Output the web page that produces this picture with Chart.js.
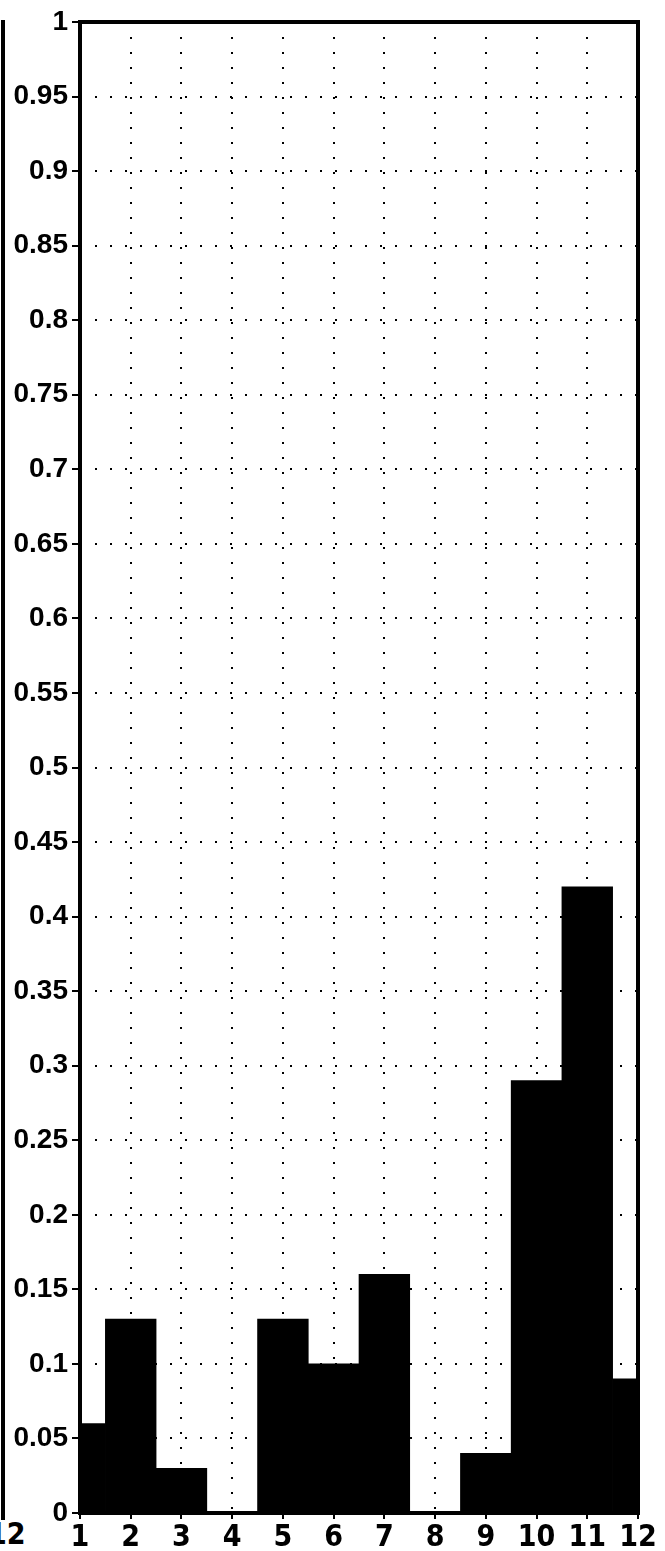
<!DOCTYPE html>
<html>
<head>
<meta charset="utf-8">
<script src="https://cdn.jsdelivr.net/npm/chart.js@4"></script>
<style>
  html, body { margin: 0; padding: 0; background: #fff; }
  #wrap { position: relative; width: 665px; height: 1551px; overflow: hidden; }
  #edge { position: absolute; left: 1px; top: 20px; width: 4px; height: 1500px; background: #000; }
  #edgeLabel {
    position: absolute; left: -12px; top: 1516px;
    font: bold 30px "Liberation Sans Narrow", "DejaVu Sans Condensed", "Liberation Sans", sans-serif;
    color: #000;
  }
  canvas { position: absolute; left: 0; top: 0; }
</style>
</head>
<body>
<div id="wrap">
  <div id="edge"></div>
  <span id="edgeLabel">12</span>
  <canvas id="chart" width="665" height="1551"></canvas>
</div>
<script>
// bins along the x axis and the share in each one
const bins = [1, 2, 3, 4, 5, 6, 7, 8, 9, 10, 11, 12];
const shares = [0.06, 0.13, 0.03, 0, 0.13, 0.10, 0.16, 0, 0.04, 0.29, 0.42, 0.09];
const xTickLabels = ['1', '2', '3', '4', '5', '6', '7', '8', '9', '10', '11', '12'];
const yMin = 0;
const yMax = 1;
const yStep = 0.05;

// thick frame round the plot area, drawn over the bars
const framePlugin = {
  id: 'frame',
  afterDatasetsDraw(chart) {
    const { ctx, chartArea: a } = chart;
    ctx.save();
    ctx.strokeStyle = '#000';
    ctx.lineWidth = 4;
    ctx.strokeRect(a.left, a.top, a.right - a.left, a.bottom - a.top);
    ctx.restore();
  }
};

const ctx = document.getElementById('chart').getContext('2d');
new Chart(ctx, {
  type: 'bar',
  data: {
    datasets: [{
      data: bins.map((b, i) => ({ x: b, y: shares[i] })),
      backgroundColor: '#000',
      borderWidth: 0,
      barPercentage: 1,
      categoryPercentage: 1,
      clip: 0
    }]
  },
  options: {
    responsive: false,
    animation: false,
    layout: { padding: { top: 22, right: 27, left: 0, bottom: 0 } },
    plugins: {
      legend: { display: false },
      tooltip: { enabled: false }
    },
    scales: {
      x: {
        type: 'linear',
        min: 1,
        max: 12,
        offset: false,
        afterFit: (scale) => { scale.height = 38; },
        afterBuildTicks: (scale) => {
          scale.ticks = bins.map(v => ({ value: v }));
        },
        ticks: {
          color: '#000',
          padding: 1,
          maxRotation: 0,
          autoSkip: false,
          font: { family: '"Liberation Sans Narrow", "DejaVu Sans Condensed", "Liberation Sans", sans-serif', size: 30, weight: 'bold' },
          callback: (v) => xTickLabels[bins.indexOf(v)]
        },
        grid: {
          offset: false,
          color: '#000',
          lineWidth: 2,
          tickLength: 6,
          tickWidth: 2,
          tickColor: '#000'
        },
        border: { display: false, dash: [2, 13] }
      },
      y: {
        min: yMin,
        max: yMax,
        afterFit: (scale) => { scale.width = 80; },
        ticks: {
          stepSize: yStep,
          color: '#000',
          padding: 4,
          font: { family: '"Liberation Sans", Arial, sans-serif', size: 28, weight: 'bold' },
          callback: (v) => String(+v.toFixed(2))
        },
        grid: {
          color: '#000',
          lineWidth: 2,
          tickLength: 8,
          tickWidth: 2,
          tickColor: '#000'
        },
        border: { display: false, dash: [2, 13] }
      }
    }
  },
  plugins: [framePlugin]
});
</script>
</body>
</html>
